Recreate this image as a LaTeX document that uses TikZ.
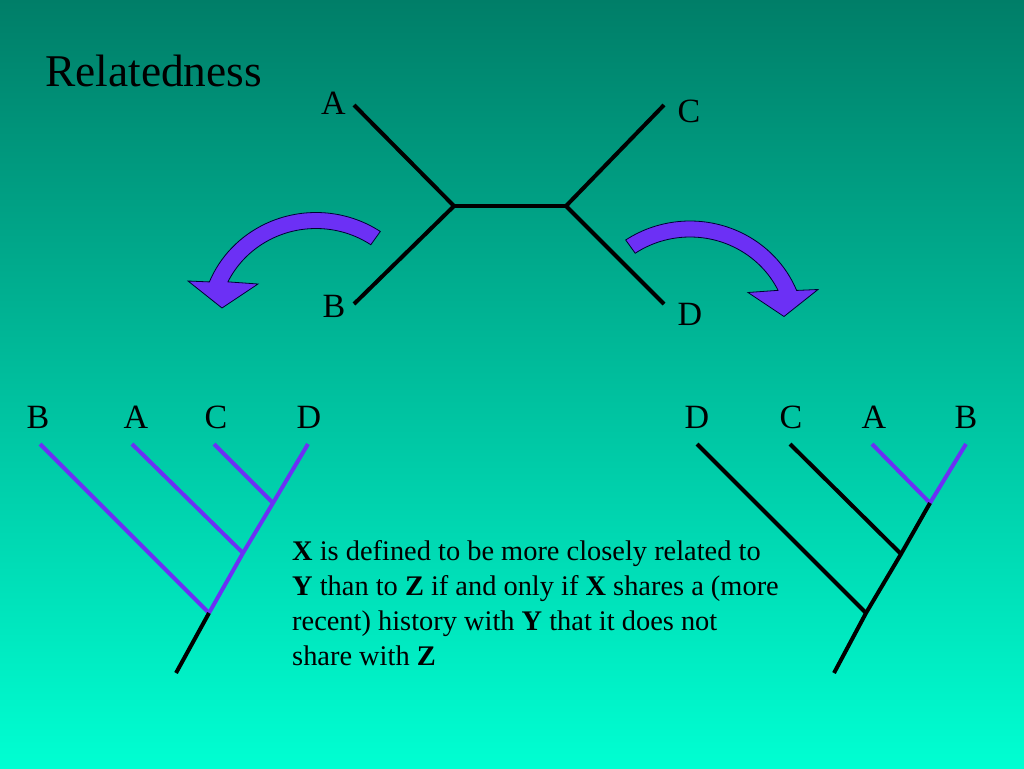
\documentclass[tikz,border=0pt]{standalone}
\usepackage{fontspec}
\setmainfont{Liberation Serif}
\usetikzlibrary{calc}
\definecolor{bgtop}{RGB}{0,126,104}
\definecolor{bgbot}{RGB}{0,255,210}
\definecolor{arrowblue}{RGB}{108,48,245}
\tikzset{
  tk/.style={line width=4pt, draw=black},
  bl/.style={line width=4pt, draw=arrowblue},
  lbl/.style={font=\fontsize{34}{40}\selectfont, inner sep=0pt, text=black},
  txt/.style={font=\fontsize{28.4}{35}\selectfont, inner sep=0pt, anchor=base west, text=black},
  bigarrow/.style={fill=arrowblue, draw=black!80!blue, line width=0.8pt, line join=miter}
}
\begin{document}
\begin{tikzpicture}[x=1pt,y=-1pt]
\useasboundingbox (0,0) rectangle (1024,768);
\shade[top color=bgtop, bottom color=bgbot] (0,0) rectangle (1024,768);

% title
\node[font=\fontsize{45.4}{50}\selectfont, inner sep=0pt, anchor=base west] (title) at (45,86) {Relatedness};

% top unrooted tree
\coordinate (uA) at (354,105);
\coordinate (uB) at (354,304);
\coordinate (uC) at (664,105);
\coordinate (uD) at (664,304);
\coordinate (uL) at (454,206);
\coordinate (uR) at (566,206);
\draw[tk] (uA) -- (uL) -- (uB);
\draw[tk] (uL) -- (uR);
\draw[tk] (uC) -- (uR) -- (uD);
\node[lbl] (lA) at (333.5,103.5) {A};
\node[lbl] (lB) at (334,306.5) {B};
\node[lbl] (lC) at (689,111) {C};
\node[lbl] (lD) at (690,314) {D};

% curved arrows
\coordinate (ac1) at (316,323.5);
\coordinate (ac2) at (690,332);
\draw[bigarrow] ($(ac1)+(-56:115 and 111)$) arc[start angle=-56, end angle=-158, x radius=115, y radius=111]
  -- (188,281) -- (222,308) -- (258,284) -- ($(ac1)+(-154:98 and 95)$)
  arc[start angle=-154, end angle=-56, x radius=98, y radius=95] -- cycle;
\draw[bigarrow] ($(ac2)+(-124:115 and 111)$) arc[start angle=-124, end angle=-22, x radius=115, y radius=111]
  -- (818,289.5) -- (784,316.5) -- (748,292.5) -- ($(ac2)+(-26:98 and 95)$)
  arc[start angle=-26, end angle=-124, x radius=98, y radius=95] -- cycle;

% left rooted tree
\node[lbl] (LB) at (38,417) {B};
\node[lbl] (LA) at (136,417) {A};
\node[lbl] (LC) at (216,417) {C};
\node[lbl] (LD) at (309,417) {D};
\coordinate (lbt) at (40,444);
\coordinate (lat) at (132,444);
\coordinate (lct) at (214,444);
\coordinate (ldt) at (308,444);
\coordinate (lcd) at (273,503);
\coordinate (laj) at (243,553);
\coordinate (lbj) at (209,613);
\coordinate (lroot) at (176,673);
\draw[bl] (lbt) -- (lbj);
\draw[bl] (lat) -- (laj);
\draw[bl] (lct) -- (lcd);
\draw[bl] (ldt) -- (lcd) -- (laj) -- (lbj);
\draw[tk] (lbj) -- (lroot);

% right rooted tree
\node[lbl] (RD) at (697,417) {D};
\node[lbl] (RC) at (791,417) {C};
\node[lbl] (RA) at (874,417) {A};
\node[lbl] (RB) at (966,417) {B};
\coordinate (rdt) at (697,444);
\coordinate (rct) at (790,444);
\coordinate (rat) at (872,444);
\coordinate (rbt) at (966,444);
\coordinate (rab) at (930,503);
\coordinate (rcj) at (901,554);
\coordinate (rdj) at (866,613);
\coordinate (rroot) at (834,673);
\draw[bl] (rat) -- (rab) -- (rbt);
\draw[tk] (rct) -- (rcj);
\draw[tk] (rdt) -- (rdj);
\draw[tk] (rab) -- (rcj) -- (rdj) -- (rroot);

% definition text
\node[txt] (t1) at (292,560) {\textbf{X} is defined to be more closely related to};
\node[txt] (t2) at (292,595) {\textbf{Y} than to \textbf{Z} if and only if \textbf{X} shares a (more};
\node[txt] (t3) at (292,630) {recent) history with \textbf{Y} that it does not};
\node[txt] (t4) at (292,665) {share with \textbf{Z}};
\end{tikzpicture}
\end{document}
